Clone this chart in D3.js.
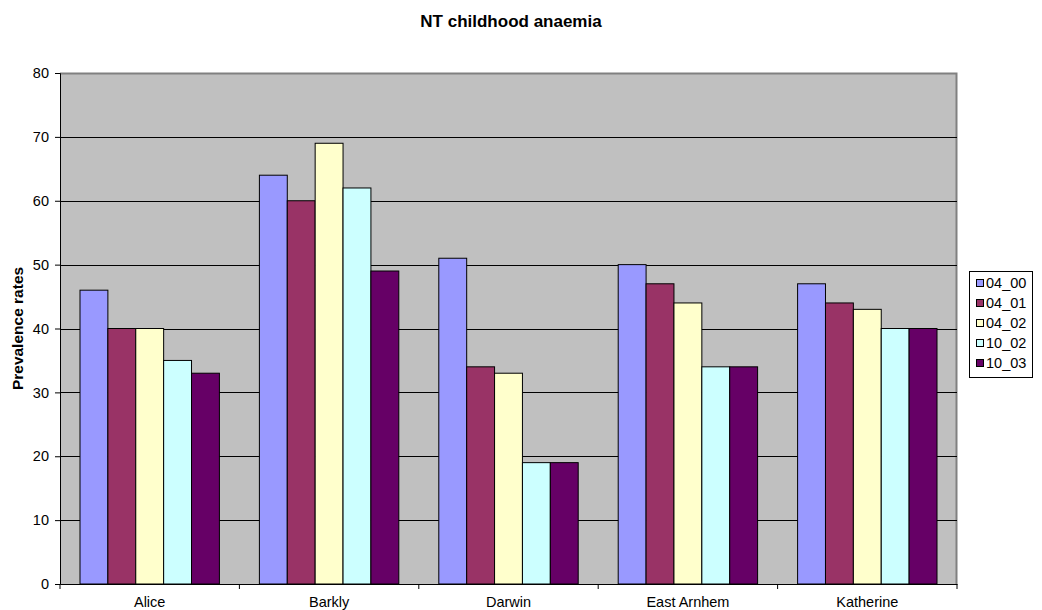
<!DOCTYPE html>
<html>
<head>
<meta charset="utf-8">
<script src="https://cdn.jsdelivr.net/npm/d3@7"></script>
<style>
  body { margin: 0; background: #fff; }
  text { font-family: "Liberation Sans", Arial, sans-serif; }
</style>
</head>
<body>
<script>
const regions = ['Alice', 'Barkly', 'Darwin', 'East Arnhem', 'Katherine'];
const seriesNames = ['04_00', '04_01', '04_02', '10_02', '10_03'];
const seriesColors = ['#9999ff', '#993366', '#ffffcc', '#ccffff', '#660066'];
const s04_00 = [46, 64, 51, 50, 47];
const s04_01 = [40, 60, 34, 47, 44];
const s04_02 = [40, 69, 33, 44, 43];
const s10_02 = [35, 62, 19, 34, 40];
const s10_03 = [33, 49, 19, 34, 40];
const yTicks = [0, 10, 20, 30, 40, 50, 60, 70, 80];

const seriesValues = [s04_00, s04_01, s04_02, s10_02, s10_03];

var margin = {top: 73, right: 85, bottom: 26, left: 60},
    width = 1042 - margin.left - margin.right,
    height = 610 - margin.top - margin.bottom;

var root = d3.select("body")
    .append("svg")
    .attr("width", 1042)
    .attr("height", 610);

var svg = root.append("g")
    .attr("transform", "translate(" + margin.left + "," + margin.top + ")");

var x = d3.scaleBand()
    .domain(regions)
    .range([0, width]);

var xInner = d3.scaleBand()
    .domain(seriesNames)
    .range([20, x.bandwidth() - 20]);

var y = d3.scaleLinear()
    .domain([0, 80])
    .range([height, 0]);

// plot background
svg.append("rect")
    .attr("width", width)
    .attr("height", height)
    .attr("fill", "#c0c0c0");

// top/right border
svg.append("path")
    .attr("d", "M0,0.5H" + (width - 0.5) + "V" + height)
    .attr("fill", "none")
    .attr("stroke", "#808080")
    .attr("stroke-width", 2);

// gridlines
svg.selectAll("line.grid")
    .data(yTicks.filter(d => d > 0 && d < 80))
    .enter()
    .append("line")
    .attr("class", "grid")
    .attr("x1", 0)
    .attr("x2", width)
    .attr("y1", d => Math.round(y(d)) + 0.5)
    .attr("y2", d => Math.round(y(d)) + 0.5)
    .attr("stroke", "#000");

// bars
var groups = svg.selectAll("g.region")
    .data(regions)
    .enter()
    .append("g")
    .attr("class", "region")
    .attr("transform", d => "translate(" + x(d) + ",0)");

groups.selectAll("rect")
    .data((d, i) => seriesNames.map((s, j) => ({series: s, value: seriesValues[j][i], color: seriesColors[j]})))
    .enter()
    .append("rect")
    .attr("x", d => xInner(d.series))
    .attr("y", d => y(d.value))
    .attr("width", xInner.bandwidth())
    .attr("height", d => height - y(d.value))
    .attr("fill", d => d.color)
    .attr("stroke", "#000")
    .attr("stroke-width", 1);

// x axis
var xAxis = svg.append("g")
    .attr("transform", "translate(0," + height + ")")
    .call(d3.axisBottom(x).tickSize(0).tickPadding(13));
xAxis.select(".domain").attr("stroke", "#000");
xAxis.selectAll("text").style("font-size", "14.5px").attr("fill", "#000");

// x tick marks between categories
xAxis.selectAll("line.sep")
    .data(regions.concat(["end"]))
    .enter()
    .append("line")
    .attr("class", "sep")
    .attr("x1", (d, i) => i * x.bandwidth())
    .attr("x2", (d, i) => i * x.bandwidth())
    .attr("y1", 0)
    .attr("y2", 5)
    .attr("stroke", "#000");

// y axis
var yAxis = svg.append("g")
    .call(d3.axisLeft(y).tickValues(yTicks).tickSize(5).tickPadding(6));
yAxis.select(".domain").attr("stroke", "#000");
yAxis.selectAll("line").attr("stroke", "#000");
yAxis.selectAll("text").style("font-size", "14.5px").attr("fill", "#000");

// title
root.append("text")
    .attr("x", 511)
    .attr("y", 27)
    .attr("text-anchor", "middle")
    .style("font-size", "17px")
    .style("font-weight", "bold")
    .text("NT childhood anaemia");

// y label
root.append("text")
    .attr("transform", "translate(23," + (margin.top + height / 2) + ") rotate(-90)")
    .attr("text-anchor", "middle")
    .style("font-size", "15.5px")
    .style("font-weight", "bold")
    .text("Prevalence rates");

// legend
var legend = root.append("g")
    .attr("transform", "translate(969,271)");
legend.append("rect")
    .attr("x", 0.5)
    .attr("y", 0.5)
    .attr("width", 63)
    .attr("height", 106)
    .attr("fill", "#fff")
    .attr("stroke", "#000");
var items = legend.selectAll("g.item")
    .data(seriesNames)
    .enter()
    .append("g")
    .attr("class", "item")
    .attr("transform", (d, i) => "translate(7," + (12 + i * 20) + ")");
items.append("rect")
    .attr("x", 0.5)
    .attr("y", -3.5)
    .attr("width", 7)
    .attr("height", 7)
    .attr("fill", (d, i) => seriesColors[i])
    .attr("stroke", "#000");
items.append("text")
    .attr("x", 10)
    .attr("y", 0)
    .attr("dy", "0.36em")
    .style("font-size", "14.5px")
    .text(d => d);
</script>
</body>
</html>
